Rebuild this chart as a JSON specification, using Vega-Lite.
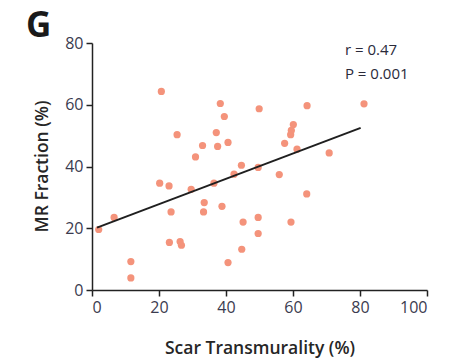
{
  "$schema": "https://vega.github.io/schema/vega-lite/v6.json",
  "width": 335,
  "height": 247,
  "autosize": {"type": "none"},
  "padding": {"left": 92, "top": 43, "right": 27, "bottom": 73},
  "background": "white",
  "title": {
    "text": "G",
    "anchor": "start",
    "frame": "group",
    "fontSize": 35,
    "fontWeight": "bold",
    "font": "Open Sans",
    "color": "#1a1a1a",
    "dx": -66,
    "dy": 9,
    "offset": 0
  },
  "config": {
    "view": {"stroke": null},
    "font": "Open Sans",
    "axis": {
      "grid": false,
      "domainColor": "#222222",
      "domainWidth": 1.5,
      "tickColor": "#222222",
      "tickWidth": 1.5,
      "tickSize": 6,
      "labelFont": "Open Sans",
      "labelFontSize": 16,
      "labelColor": "#3b3b4f",
      "labelPadding": 3,
      "titleFont": "Open Sans",
      "titleFontSize": 17.5,
      "titleFontWeight": 600,
      "titleColor": "#262626"
    }
  },
  "datasets": {
    "points": [
      {"scar": 2.0, "mr": 19.6}, {"scar": 6.6, "mr": 23.5}, {"scar": 11.6, "mr": 9.2}, {"scar": 11.6, "mr": 3.9},
      {"scar": 20.2, "mr": 34.6}, {"scar": 20.7, "mr": 64.3}, {"scar": 23.0, "mr": 33.7}, {"scar": 23.1, "mr": 15.4},
      {"scar": 23.6, "mr": 25.3}, {"scar": 25.4, "mr": 50.3}, {"scar": 26.3, "mr": 15.7}, {"scar": 26.7, "mr": 14.5},
      {"scar": 29.6, "mr": 32.6}, {"scar": 30.9, "mr": 43.1}, {"scar": 33.0, "mr": 46.8}, {"scar": 33.5, "mr": 28.3},
      {"scar": 33.3, "mr": 25.3}, {"scar": 36.4, "mr": 34.6}, {"scar": 37.1, "mr": 51.0}, {"scar": 37.5, "mr": 46.5},
      {"scar": 38.3, "mr": 60.4}, {"scar": 38.8, "mr": 27.1}, {"scar": 39.5, "mr": 56.2}, {"scar": 40.6, "mr": 47.8},
      {"scar": 40.6, "mr": 8.9}, {"scar": 42.4, "mr": 37.5}, {"scar": 44.6, "mr": 40.4}, {"scar": 44.7, "mr": 13.2},
      {"scar": 45.1, "mr": 22.0}, {"scar": 49.6, "mr": 39.7}, {"scar": 49.6, "mr": 23.5}, {"scar": 49.6, "mr": 18.3},
      {"scar": 49.9, "mr": 58.7}, {"scar": 55.9, "mr": 37.4}, {"scar": 57.5, "mr": 47.5}, {"scar": 59.3, "mr": 50.3},
      {"scar": 59.5, "mr": 51.7}, {"scar": 60.1, "mr": 53.6}, {"scar": 59.4, "mr": 22.0}, {"scar": 61.2, "mr": 45.6},
      {"scar": 64.1, "mr": 31.1}, {"scar": 64.2, "mr": 59.7}, {"scar": 70.8, "mr": 44.4}, {"scar": 81.2, "mr": 60.3}
    ],
    "fit": [
      {"scar": 1.5, "mr": 20.2},
      {"scar": 80.2, "mr": 52.5}
    ],
    "stats": [
      {"scar": 75.5, "mr": 77.8, "label": "r = 0.47"},
      {"scar": 75.5, "mr": 69.8, "label": "P = 0.001"}
    ]
  },
  "encoding": {
    "x": {
      "field": "scar",
      "type": "quantitative",
      "scale": {"domain": [0, 100], "nice": false, "zero": false},
      "axis": {
        "values": [0, 20, 40, 60, 80, 100],
        "title": "Scar Transmurality (%)",
        "titleY": 63,
        "titleBaseline": "alphabetic"
      }
    },
    "y": {
      "field": "mr",
      "type": "quantitative",
      "scale": {"domain": [0, 80], "nice": false},
      "axis": {
        "values": [0, 20, 40, 60, 80],
        "title": "MR Fraction (%)",
        "titleAngle": -90,
        "titleX": -45,
        "titleY": 123,
        "titleAlign": "center",
        "titleBaseline": "alphabetic"
      }
    }
  },
  "layer": [
    {
      "data": {"name": "points"},
      "mark": {"type": "circle", "size": 52, "color": "#F4937B", "opacity": 1}
    },
    {
      "data": {"name": "fit"},
      "mark": {"type": "line", "color": "#1f1f1f", "strokeWidth": 2}
    },
    {
      "data": {"name": "stats"},
      "mark": {"type": "text", "align": "left", "baseline": "middle", "fontSize": 15, "font": "Open Sans", "color": "#2a2a3a"},
      "encoding": {"text": {"field": "label"}}
    }
  ]
}
